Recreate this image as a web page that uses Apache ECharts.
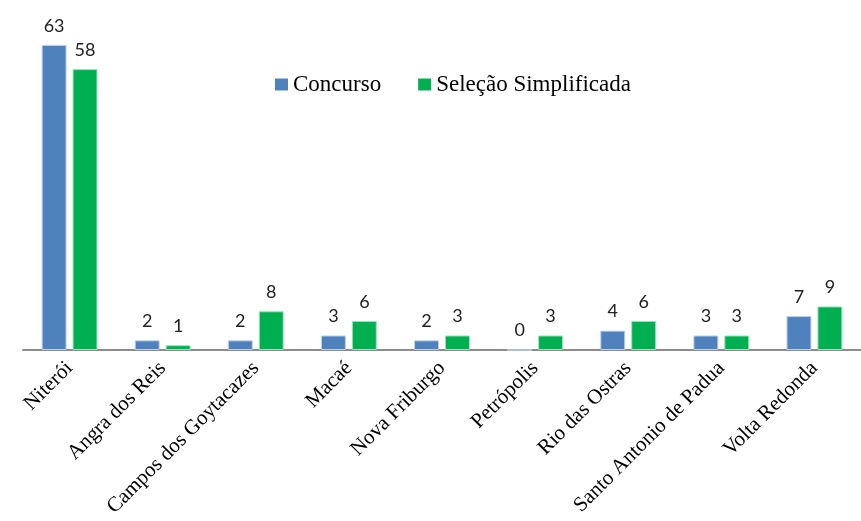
<!DOCTYPE html>
<html>
<head>
<meta charset="utf-8">
<script src="https://cdn.jsdelivr.net/npm/echarts@6/dist/echarts.min.js"></script>
<style>
  html, body { margin: 0; padding: 0; background: #fff; }
  #chart { width: 861px; height: 521px; }
</style>
</head>
<body>
<div id="chart"></div>
<script>
// Vagas por município: concurso x seleção simplificada
const municipios = ['Niterói', 'Angra dos Reis', 'Campos dos Goytacazes', 'Macaé', 'Nova Friburgo', 'Petrópolis', 'Rio das Ostras', 'Santo Antonio de Padua', 'Volta Redonda'];
const concurso = [63, 2, 2, 3, 2, 0, 4, 3, 7];
const selecao = [58, 1, 8, 6, 3, 3, 6, 3, 9];

const chart = echarts.init(document.getElementById('chart'), null, { renderer: 'canvas' });

const valueLabel = {
  show: true,
  position: 'top',
  distance: 10,
  fontFamily: 'Lato',
  fontSize: 18,
  color: '#222'
};

chart.setOption({
  animation: false,
  backgroundColor: '#fff',
  grid: { left: 23, top: 11, width: 841, bottom: 171, containLabel: false },
  legend: {
    left: 270,
    top: 68,
    itemWidth: 13,
    itemHeight: 12,
    itemGap: 37,
    icon: 'rect',
    itemStyle: { borderWidth: 0 },
    textStyle: { fontFamily: 'Liberation Serif', fontSize: 23, color: '#000' },
    data: ['Concurso', 'Seleção Simplificada']
  },
  xAxis: {
    type: 'category',
    data: municipios,
    axisLine: { lineStyle: { color: '#8c8c8c', width: 2 } },
    axisTick: { show: false },
    axisLabel: {
      interval: 0,
      rotate: 45,
      margin: 15,
      fontFamily: 'Liberation Serif',
      fontSize: 21,
      color: '#000'
    }
  },
  yAxis: {
    type: 'value',
    min: 0,
    max: 70,
    show: false,
    splitLine: { show: false }
  },
  series: [
    {
      name: 'Concurso',
      type: 'bar',
      data: concurso,
      barGap: '24%',
      barCategoryGap: '40%',
      itemStyle: { color: '#4F81BD', borderColor: '#bcd0ea', borderWidth: 1 },
      label: valueLabel
    },
    {
      name: 'Seleção Simplificada',
      type: 'bar',
      data: selecao,
      itemStyle: { color: '#00B050', borderColor: '#9fe0bd', borderWidth: 1 },
      label: valueLabel
    }
  ]
});
</script>
</body>
</html>
